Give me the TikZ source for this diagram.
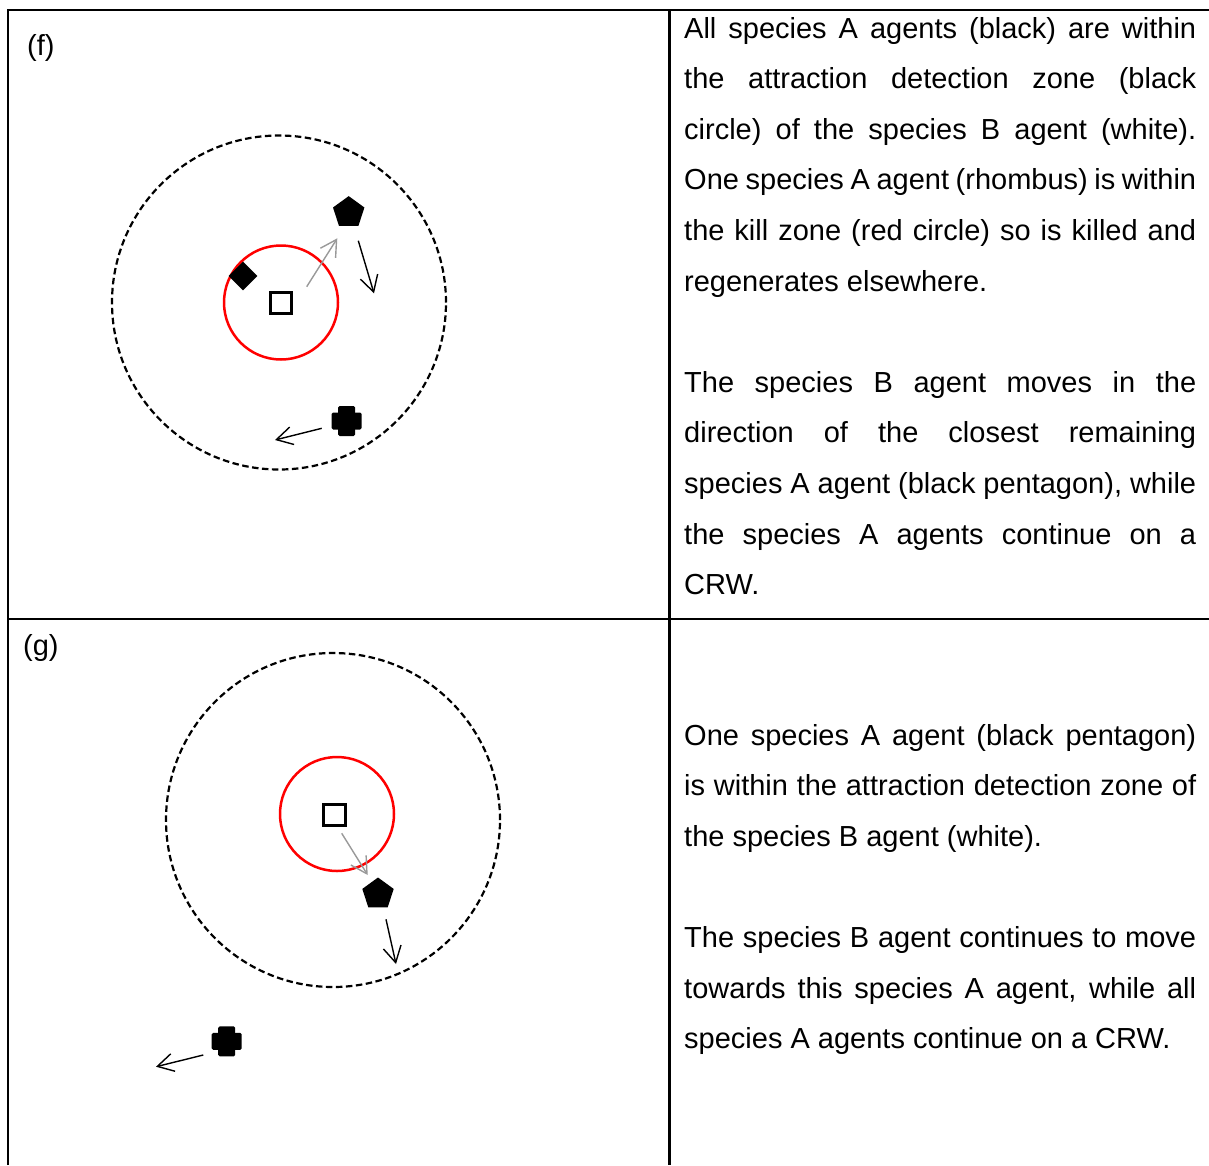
\documentclass[tikz,border=0pt]{standalone}
\usepackage{fontspec}
\setmainfont{Liberation Sans}
\usetikzlibrary{arrows.meta,shapes.geometric}

\begin{document}
\begin{tikzpicture}[x=1pt,y=-1pt,
  rule/.style={line width=2.4pt, line join=miter},
  zone/.style={circle, draw, dash pattern=on 6.5pt off 3.5pt, line width=2.2pt,
    inner sep=0, minimum size=334pt},
  killzone/.style={circle, draw=red, line width=2.5pt, inner sep=0, minimum size=114pt},
  agentB/.style={rectangle, draw, line width=3pt, fill=white, minimum size=21.5pt, inner sep=0},
  pent/.style={regular polygon, regular polygon sides=5, fill=black, minimum size=33pt, inner sep=0},
  rhomb/.style={diamond, fill=black, minimum width=29pt, minimum height=29pt, inner sep=0},
  plusmark/.style={minimum size=30pt, inner sep=0,
    path picture={
      \fill[black,rounded corners=1.5pt] ([xshift=-8.5pt,yshift=-15pt]path picture bounding box.center)
        rectangle ([xshift=8.5pt,yshift=15pt]path picture bounding box.center);
      \fill[black,rounded corners=1.5pt] ([xshift=-15pt,yshift=-8.5pt]path picture bounding box.center)
        rectangle ([xshift=15pt,yshift=8.5pt]path picture bounding box.center);}},
  move/.style={-{Straight Barb[length=16pt,width=18pt]}, line width=1.4pt},
  seek/.style={move, draw=black!40},
  body/.style={anchor=base west, inner sep=0, font=\fontsize{29}{50.6}\selectfont},
  lab/.style={body},
]
\useasboundingbox (0,0) rectangle (1209,1165);

% table rules
\draw[rule] (8,1165) -- (8,10) -- (1209,10);
\draw[rule] (669.5,10) -- (669.5,1165);
\draw[rule] (8,619) -- (1209,619);

% ---------- panel (f) ----------
\node[lab] (labf) at (27,55) {(f)};
\node[zone] (zonef) at (279,302.5) {};
\node[killzone] (killf) at (281,302.5) {};
\node[agentB] (bf) at (281,303) {};
\node[rhomb] (rhf) at (243,276) {};
\node[pent] (pf) at (348.7,212.6) {};
\node[plusmark] (xf) at (346.7,421) {};

\coordinate (sf0) at (306.7,286.7);
\coordinate (sf1) at (337.3,238.3);
\coordinate (pf0) at (358.3,240.7);
\coordinate (pf1) at (374,293.3);
\coordinate (xf0) at (321.7,428.3);
\coordinate (xf1) at (275,440);
\draw[seek] (sf0) -- (sf1);
\draw[move] (pf0) -- (pf1);
\draw[move] (xf0) -- (xf1);

\node[body] (f0) at (684,38) {\makebox[512pt][s]{All species A agents (black) are within}};
\node[body] (f1) at (684,88.6) {\makebox[512pt][s]{the attraction detection zone (black}};
\node[body] (f2) at (684,139.2) {\makebox[512pt][s]{circle) of the species B agent (white).}};
\node[body] (f3) at (684,189.8) {\makebox[512pt][s]{One species A agent (rhombus) is within}};
\node[body] (f4) at (684,240.4) {\makebox[512pt][s]{the kill zone (red circle) so is killed and}};
\node[body] (f5) at (684,291) {regenerates elsewhere.};
\node[body] (f6) at (684,392.2) {\makebox[512pt][s]{The species B agent moves in the}};
\node[body] (f7) at (684,442.8) {\makebox[512pt][s]{direction of the closest remaining}};
\node[body] (f8) at (684,493.4) {\makebox[512pt][s]{species A agent (black pentagon), while}};
\node[body] (f9) at (684,544) {\makebox[512pt][s]{the species A agents continue on a}};
\node[body] (f10) at (684,594.6) {CRW.};

% ---------- panel (g) ----------
\node[lab] (labg) at (23,655.5) {(g)};
\node[zone] (zoneg) at (333,820) {};
\node[killzone] (killg) at (337,814) {};
\node[agentB] (bg) at (334.7,815) {};
\node[pent] (pg) at (378,894) {};
\node[plusmark] (xg) at (226.7,1041.3) {};

\coordinate (sg0) at (341.7,833.3);
\coordinate (sg1) at (367.7,875);
\coordinate (pg0) at (386,919.3);
\coordinate (pg1) at (396,964);
\coordinate (xg0) at (203.3,1055);
\coordinate (xg1) at (156,1066.7);
\draw[seek] (sg0) -- (sg1);
\draw[move] (pg0) -- (pg1);
\draw[move] (xg0) -- (xg1);

\node[body] (g0) at (684,745) {\makebox[512pt][s]{One species A agent (black pentagon)}};
\node[body] (g1) at (684,795.6) {\makebox[512pt][s]{is within the attraction detection zone of}};
\node[body] (g2) at (684,846.2) {the species B agent (white).};
\node[body] (g3) at (684,947.4) {\makebox[512pt][s]{The species B agent continues to move}};
\node[body] (g4) at (684,998) {\makebox[512pt][s]{towards this species A agent, while all}};
\node[body] (g5) at (684,1048.6) {species A agents continue on a CRW.};
\end{tikzpicture}
\end{document}
